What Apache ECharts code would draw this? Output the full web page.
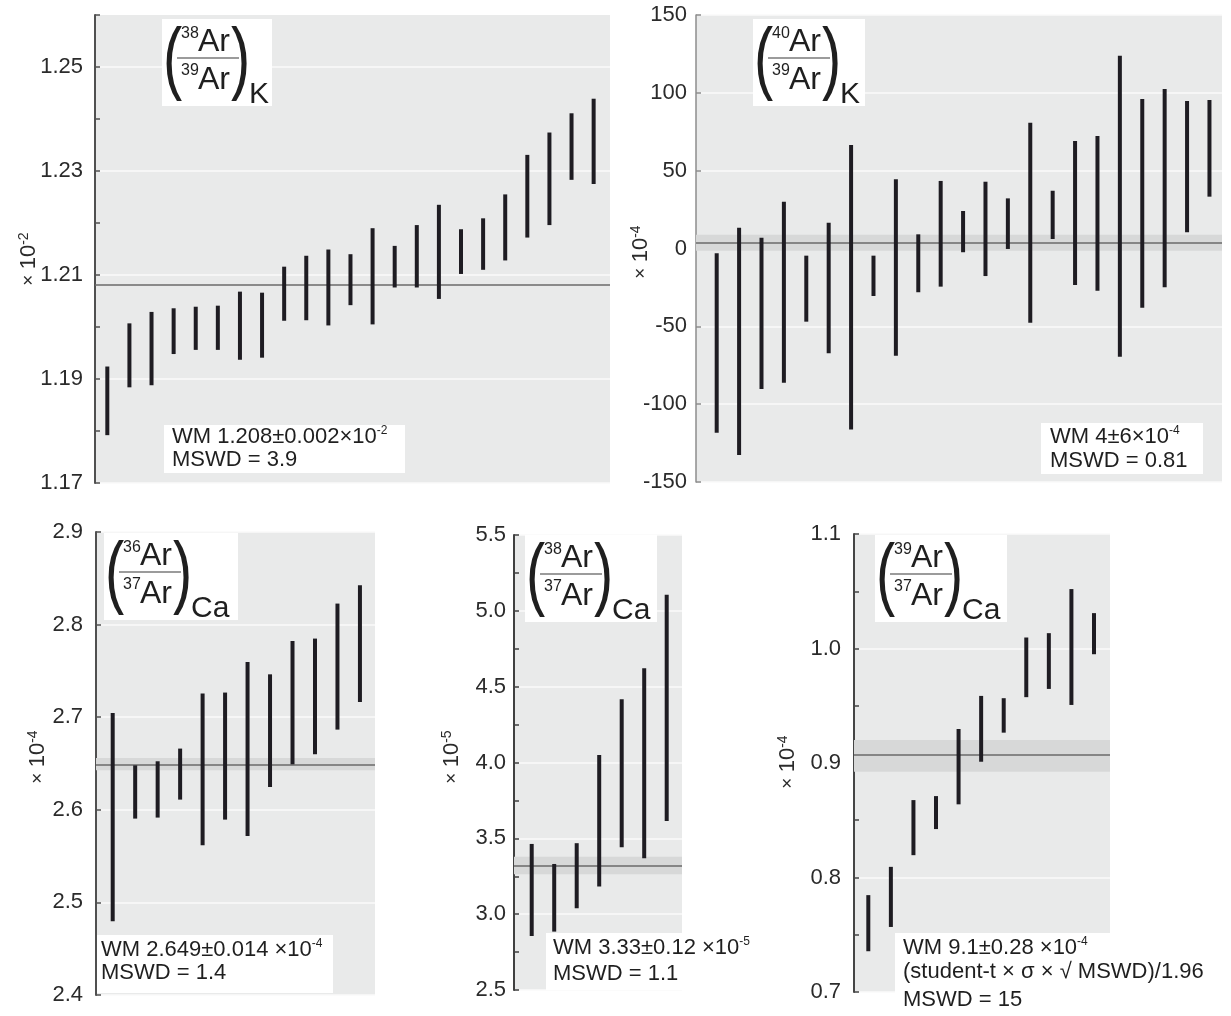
<!DOCTYPE html>
<html>
<head>
<meta charset="utf-8">
<title>Ar isotope ratios</title>
<script src="https://cdn.jsdelivr.net/npm/echarts@6/dist/echarts.min.js"></script>
<style>
  html, body { margin: 0; padding: 0; background: #fff; }
  #chart { width: 1231px; height: 1016px; }
</style>
</head>
<body>
<div id="chart"></div>
<script>
// (38Ar/39Ar)K, x10^-2
var k3839Hi = [1.1924, 1.2007, 1.2029, 1.2036, 1.2039, 1.2041, 1.2068, 1.2066, 1.2116, 1.2137, 1.2149, 1.2140,
  1.2190, 1.2156, 1.2196, 1.2235, 1.2188, 1.2209, 1.2255, 1.2331, 1.2374, 1.2411, 1.2439];
var k3839Lo = [1.1792, 1.1884, 1.1888, 1.1948, 1.1956, 1.1956, 1.1937, 1.1941, 1.2012, 1.2013, 1.2003, 1.2042,
  1.2005, 1.2076, 1.2076, 1.2054, 1.2102, 1.2110, 1.2128, 1.2172, 1.2196, 1.2283, 1.2275];
var k3839Mean = 1.2081;

// (40Ar/39Ar)K, x10^-4
var k4039Hi = [-3.1, 13.4, 6.9, 30.1, -4.6, 16.6, 66.5, -4.6, 44.5, 9.1, 43.4, 24.1, 42.9, 32.2, 80.8, 37.1,
  69.1, 72.3, 123.9, 96.0, 102.5, 94.8, 95.4];
var k4039Lo = [-118.3, -132.7, -90.3, -86.2, -47.0, -67.3, -116.2, -30.5, -68.9, -28.1, -24.5, -2.4, -17.7, -0.3,
  -47.7, 6.1, -23.4, -27.1, -69.5, -38.0, -24.9, 10.4, 33.3];
var k4039Mean = 4;
var k4039Band = [-1.4, 8.9];

// (36Ar/37Ar)Ca, x10^-4
var ca3637Hi = [2.7045, 2.648, 2.6524, 2.6661, 2.7255, 2.7266, 2.7596, 2.7463, 2.7823, 2.7849, 2.8227, 2.8425];
var ca3637Lo = [2.4796, 2.5905, 2.5916, 2.6110, 2.5617, 2.5894, 2.5717, 2.6246, 2.6491, 2.6600, 2.6866, 2.7164];
var ca3637Mean = 2.649;
var ca3637Band = [2.6427, 2.656];

// (38Ar/37Ar)Ca, x10^-5
var ca3837Hi = [3.463, 3.331, 3.468, 4.050, 4.417, 4.622, 5.106];
var ca3837Lo = [2.856, 2.885, 3.039, 3.182, 3.441, 3.369, 3.615];
var ca3837Mean = 3.32;
var ca3837Band = [3.263, 3.379];

// (39Ar/37Ar)Ca, x10^-4
var ca3937Hi = [0.7846, 0.8093, 0.8676, 0.8711, 0.9297, 0.9586, 0.9566, 1.0096, 1.0134, 1.0519, 1.0309];
var ca3937Lo = [0.7356, 0.7568, 0.8195, 0.8423, 0.8639, 0.9011, 0.9265, 0.9575, 0.9647, 0.9507, 0.9950];
var ca3937Mean = 0.9076;
var ca3937Band = [0.8924, 0.920];

// y ranges [min, max, interval]
var k3839Axis = [1.17, 1.26, 0.01];
var k4039Axis = [-150, 150, 50];
var ca3637Axis = [2.4, 2.9, 0.1];
var ca3837Axis = [2.5, 5.5, 0.5];
var ca3937Axis = [0.7, 1.1, 0.1];

var FONT = 'Liberation Sans, Arial, Helvetica, sans-serif';
var chart = echarts.init(document.getElementById('chart'));

var grids = [
  {left: 95, top: 15, width: 515, height: 468},
  {left: 696, top: 15, width: 526, height: 467},
  {left: 96, top: 532, width: 279, height: 463},
  {left: 514, top: 535, width: 168, height: 455},
  {left: 854, top: 534, width: 256, height: 458}
].map(function (g) {
  g.show = true;
  g.backgroundColor = '#e9eaea';
  g.borderWidth = 0;
  return g;
});

var xRanges = [[0.443, 23.74], [0.076, 23.56], [0.257, 12.67], [0.213, 7.68], [0.366, 11.71]];
var xAxes = xRanges.map(function (r, i) {
  return {type: 'value', gridIndex: i, min: r[0], max: r[1], show: false};
});

function yAx(i, range, opt) {
  return {
    type: 'value', gridIndex: i, min: range[0], max: range[1], interval: range[2],
    axisLine: {show: true, lineStyle: {color: opt.color, width: opt.width}},
    axisTick: {show: true, inside: true, length: 5, lineStyle: {color: opt.color, width: 1.5}},
    minorTick: {show: !!opt.minor, splitNumber: 2, length: 5, lineStyle: {color: opt.color, width: 1.5}},
    axisLabel: {
      margin: opt.margin, color: '#2b2b2b', fontSize: 22, fontFamily: FONT,
      formatter: opt.fmt
    },
    splitLine: {show: true, lineStyle: {color: opt.lineColors || '#fafafa', width: 1.5}}
  };
}

var yAxes = [
  yAx(0, k3839Axis, {
    color: '#505050', width: 2, margin: 12, lineColors: ['#fafafa', 'rgba(0,0,0,0)'],
    fmt: function (v) { return Math.round((v - 1.17) * 100) % 2 === 0 ? v.toFixed(2) : ''; }
  }),
  yAx(1, k4039Axis, {color: '#8c8c8c', width: 1.5, margin: 9, fmt: function (v) { return String(Math.round(v)); }}),
  yAx(2, ca3637Axis, {color: '#505050', width: 2, margin: 13, fmt: function (v) { return v.toFixed(1); }}),
  yAx(3, ca3837Axis, {color: '#404040', width: 2, margin: 8, minor: true, fmt: function (v) { return v.toFixed(1); }}),
  yAx(4, ca3937Axis, {color: '#454545', width: 2, margin: 13, minor: true, fmt: function (v) { return v.toFixed(1); }})
];

function errSeries(i, lo, hi, mean, band) {
  var s = {
    type: 'custom',
    xAxisIndex: i,
    yAxisIndex: i,
    z: 5,
    data: lo.map(function (v, k) { return [k + 1, v, hi[k]]; }),
    encode: {x: 0, y: [1, 2]},
    renderItem: function (params, api) {
      var top = api.coord([api.value(0), api.value(2)]);
      var bot = api.coord([api.value(0), api.value(1)]);
      return {
        type: 'rect',
        shape: {x: top[0] - 2, y: top[1], width: 4, height: bot[1] - top[1]},
        style: {fill: '#1e1c22'}
      };
    },
    markLine: {
      silent: true, symbol: 'none', z: 3, animation: false, precision: 6,
      label: {show: false},
      lineStyle: {color: '#6a6a6a', width: 1.5, type: 'solid'},
      data: [{yAxis: mean}]
    }
  };
  if (band) {
    s.markArea = {silent: true, z: 2, animation: false, precision: 6, itemStyle: {color: '#d7d8d8'},
      data: [[{yAxis: band[0]}, {yAxis: band[1]}]]};
  }
  return s;
}

var series = [
  errSeries(0, k3839Lo, k3839Hi, k3839Mean, null),
  errSeries(1, k4039Lo, k4039Hi, k4039Mean, k4039Band),
  errSeries(2, ca3637Lo, ca3637Hi, ca3637Mean, ca3637Band),
  errSeries(3, ca3837Lo, ca3837Hi, ca3837Mean, ca3837Band),
  errSeries(4, ca3937Lo, ca3937Hi, ca3937Mean, ca3937Band)
];

function txt(x, y, text, size, sx) {
  return {
    type: 'text', z: 20, x: x, y: y, scaleX: sx || 1,
    style: {text: text, x: 0, y: 0, fontSize: size, fontFamily: FONT, fill: '#1f1f1f', verticalAlign: 'middle', align: 'left'}
  };
}

// ratio formula box like (38Ar/39Ar)K
function formula(x0, y0, w, top, bot, sub) {
  return [
    {type: 'rect', z: 19, shape: {x: x0, y: y0, width: w, height: 87}, style: {fill: '#ffffff'}},
    txt(x0 + 1, y0 + 43, '(', 80, 0.72),
    txt(x0 + 19, y0 + 15, top, 16),
    txt(x0 + 36, y0 + 23, 'Ar', 32),
    {type: 'line', z: 20, shape: {x1: x0 + 15, y1: y0 + 39, x2: x0 + 77, y2: y0 + 39}, style: {stroke: '#7a7a7a', lineWidth: 1.5}},
    txt(x0 + 19, y0 + 52, bot, 16),
    txt(x0 + 36, y0 + 61, 'Ar', 32),
    txt(x0 + 69, y0 + 43, ')', 80, 0.72),
    txt(x0 + 87, y0 + 76, sub, 30)
  ];
}

var supRich = {
  t: {fontSize: 22, fontFamily: FONT, fill: '#1f1f1f', lineHeight: 24},
  s: {fontSize: 12, fontFamily: FONT, fill: '#1f1f1f', verticalAlign: 'top', lineHeight: 12}
};

function richTxt(x, y, text) {
  return {
    type: 'text', z: 20, x: x, y: y,
    style: {text: text, x: 0, y: 0, rich: supRich, fontFamily: FONT, align: 'left', verticalAlign: 'middle'}
  };
}

function wmBox(x, y, w, h, lines) {
  var els = [{type: 'rect', z: 19, shape: {x: x, y: y, width: w, height: h}, style: {fill: '#ffffff'}}];
  return els.concat(lines);
}

var nameRich = {
  t: {fontSize: 22, fontFamily: FONT, fill: '#2b2b2b', lineHeight: 24},
  x: {fontSize: 19, fontFamily: FONT, fill: '#2b2b2b', lineHeight: 24},
  s: {fontSize: 14, fontFamily: FONT, fill: '#2b2b2b', verticalAlign: 'top', lineHeight: 13}
};
function axisName(x, y, pow) {
  return {
    type: 'text', z: 20, x: x, y: y, rotation: Math.PI / 2,
    style: {text: '{x|× }{t|10}{s|' + pow + '}', x: 0, y: 0, rich: nameRich, align: 'center', verticalAlign: 'middle'}
  };
}

var graphics = [].concat(
  formula(162, 19, 110, '38', '39', 'K'),
  formula(753, 19, 112, '40', '39', 'K'),
  formula(104, 533, 134, '36', '37', 'Ca'),
  formula(525, 535, 132, '38', '37', 'Ca'),
  formula(875, 535, 132, '39', '37', 'Ca'),
  wmBox(164, 425, 241, 48, [
    richTxt(172, 437, '{t|WM 1.208±0.002×10}{s|-2}'),
    richTxt(172, 460, '{t|MSWD = 3.9}')
  ]),
  wmBox(1041, 423, 162, 51, [
    richTxt(1050, 437, '{t|WM 4±6×10}{s|-4}'),
    richTxt(1050, 461, '{t|MSWD = 0.81}')
  ]),
  wmBox(97, 935, 236, 58, [
    richTxt(101, 950, '{t|WM 2.649±0.014 ×10}{s|-4}'),
    richTxt(101, 973, '{t|MSWD = 1.4}')
  ]),
  wmBox(546, 933, 140, 57, [
    richTxt(553, 948, '{t|WM 3.33±0.12 ×10}{s|-5}'),
    richTxt(553, 974, '{t|MSWD = 1.1}')
  ]),
  wmBox(895, 933, 220, 83, [
    richTxt(903, 948, '{t|WM 9.1±0.28 ×10}{s|-4}'),
    richTxt(903, 972, '{t|(student-t × σ × √ MSWD)/1.96}'),
    richTxt(903, 1000, '{t|MSWD = 15}')
  ]),
  [
    axisName(29, 259, '-2'),
    axisName(641, 252, '-4'),
    axisName(38, 757, '-4'),
    axisName(452, 757, '-5'),
    axisName(788, 762, '-4')
  ]
);

chart.setOption({
  animation: false,
  backgroundColor: '#ffffff',
  grid: grids,
  xAxis: xAxes,
  yAxis: yAxes,
  series: series,
  graphic: {elements: graphics}
});
</script>
</body>
</html>
